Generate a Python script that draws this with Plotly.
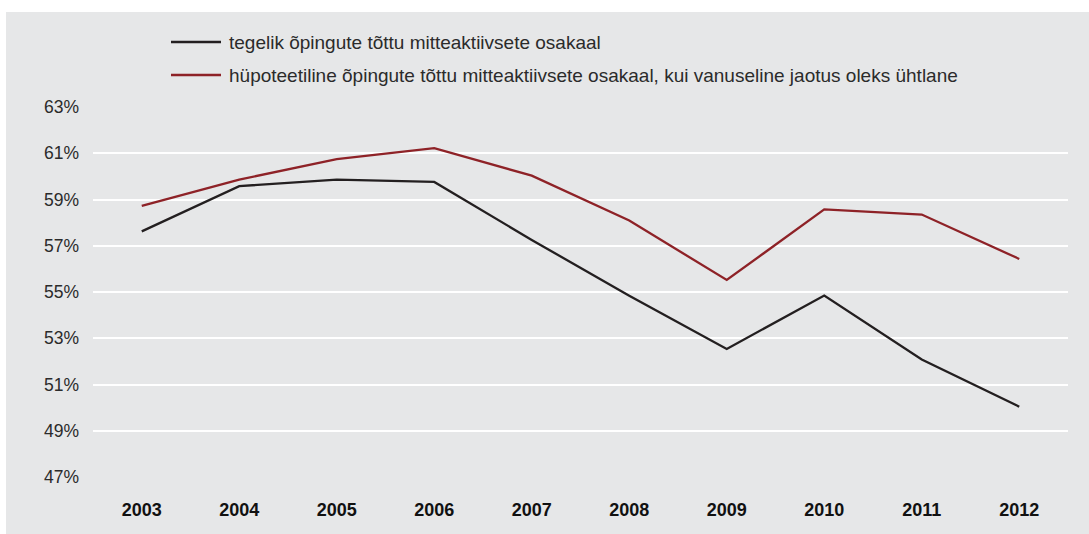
import plotly.graph_objects as go

years = ["2003", "2004", "2005", "2006", "2007", "2008", "2009", "2010", "2011", "2012"]
actual = [57.62, 59.58, 59.86, 59.76, 57.25, 54.84, 52.54, 54.85, 52.08, 50.04]
hypothetical = [58.72, 59.86, 60.75, 61.22, 60.03, 58.09, 55.52, 58.57, 58.35, 56.43]
series_names = [
    "tegelik õpingute tõttu mitteaktiivsete osakaal",
    "hüpoteetiline õpingute tõttu mitteaktiivsete osakaal, kui vanuseline jaotus oleks ühtlane",
]
y_ticks = [47, 49, 51, 53, 55, 57, 59, 61, 63]
y_tick_labels = [f"{v}%" for v in y_ticks]

colors = ["#231f20", "#8e2227"]
BG = "#e6e7e8"
FONT = "Liberation Sans, Arial, Helvetica, sans-serif"

fig = go.Figure()
for name, vals, col in zip(series_names, [actual, hypothetical], colors):
    fig.add_trace(go.Scatter(x=years, y=vals, mode="lines", name=name,
                             line=dict(color=col, width=2.3), showlegend=False))

W, H = 1089, 534
ml, mr, mt, mb = 93, 21, 107, 57
pw, ph = W - ml - mr, H - mt - mb

def px_x(p):
    return (p - ml) / pw

def px_y(p):
    return (H - mb - p) / ph

shapes = [
    # white top strip and left strip around the grey panel
    dict(type="rect", xref="paper", yref="paper", layer="below",
         x0=px_x(-10), x1=px_x(W + 10), y0=px_y(12), y1=px_y(-10),
         fillcolor="white", line=dict(width=0)),
    dict(type="rect", xref="paper", yref="paper", layer="below",
         x0=px_x(-10), x1=px_x(6), y0=px_y(H + 10), y1=px_y(-10),
         fillcolor="white", line=dict(width=0)),
]
annotations = []
for i, (name, col) in enumerate(zip(series_names, colors)):
    yy = px_y(42 + 33 * i)
    shapes.append(dict(type="line", xref="paper", yref="paper",
                       x0=px_x(171), x1=px_x(221), y0=yy, y1=yy,
                       line=dict(color=col, width=2.5)))
    annotations.append(dict(xref="paper", yref="paper", x=px_x(227), y=yy,
                            xanchor="left", yanchor="middle", showarrow=False,
                            text=name, font=dict(size=19, color="#2b2b2b", family=FONT)))

fig.update_layout(
    width=W, height=H,
    margin=dict(l=ml, r=mr, t=mt, b=mb),
    paper_bgcolor=BG, plot_bgcolor=BG,
    shapes=shapes, annotations=annotations,
    font=dict(family=FONT, color="#2b2b2b"),
    xaxis=dict(type="category", range=[-0.5, 9.5], showgrid=False, zeroline=False,
               showline=False, ticks="", ticklabelstandoff=20,
               tickfont=dict(size=18, color="#111111", family=FONT, weight="bold")),
    yaxis=dict(range=[47, 63], tickvals=y_ticks, ticktext=y_tick_labels,
               showgrid=True, gridcolor="white", gridwidth=1.5, zeroline=False,
               showline=False, ticks="", ticklabelstandoff=13,
               tickfont=dict(size=17.5, color="#2b2b2b", family=FONT)),
)

fig.write_html(
    "out.html",
    config={"displayModeBar": False},
    post_script="document.body.style.margin='0';document.body.style.overflow='hidden';"
                "document.body.style.background='" + BG + "';",
)
